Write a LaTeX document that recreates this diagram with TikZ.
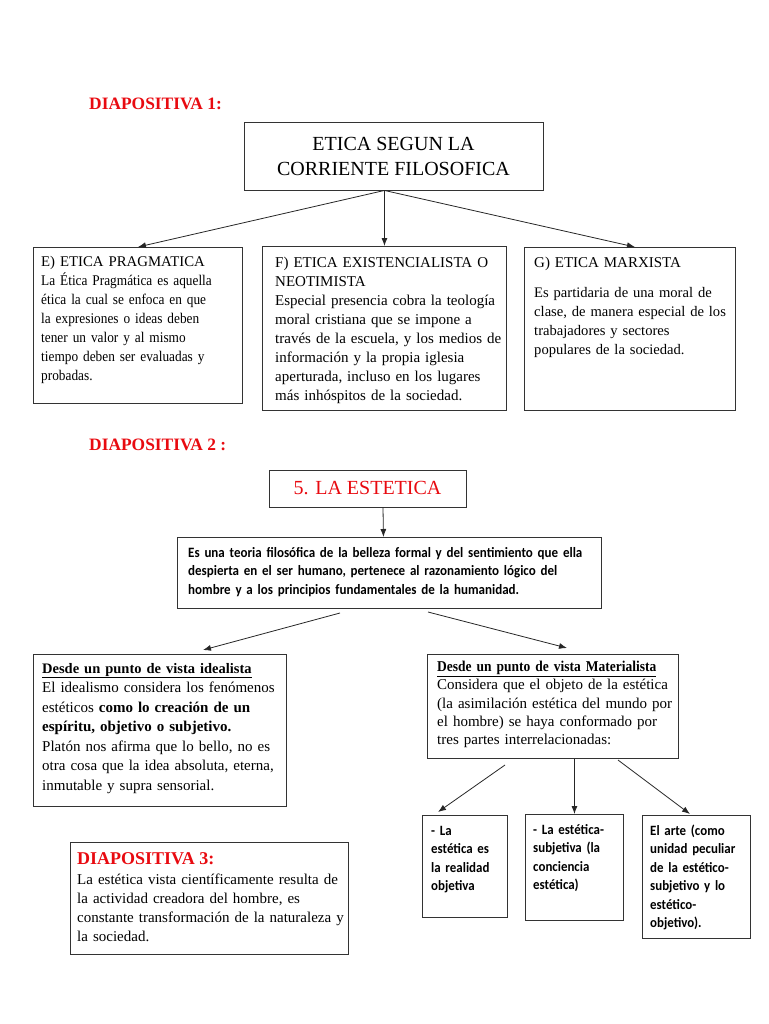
\documentclass[tikz,border=0pt]{standalone}
\usepackage{fontspec}
\setmainfont{Liberation Serif}
\newfontfamily\calibfont{Carlito}[FakeStretch=0.91]
\newfontfamily\condserif{Liberation Serif}[FakeStretch=0.9]
\usepackage{xcolor}
\usetikzlibrary{positioning,arrows.meta}
\definecolor{slidered}{RGB}{232,10,16}

\begin{document}
\begin{tikzpicture}
  [x=1pt,y=-1pt,
   box/.style={draw=black!80, line width=0.9pt, inner sep=0pt},
   frame/.style={box, anchor=north west},
   txt/.style={anchor=base west, inner sep=0pt, align=left, font=\fontsize{15}{19}\selectfont},
   stxt/.style={anchor=base west, inner sep=0pt, align=left, font=\calibfont\bfseries\fontsize{14.2}{18.5}\selectfont},
   slide/.style={anchor=base west, inner sep=0pt, text=slidered, font=\bfseries\fontsize{17.4}{20}\selectfont},
   arr/.style={-{Latex[length=8pt,width=6pt]}, line width=0.8pt, black!85}]
  \useasboundingbox (0,0) rectangle (768,1024);

  % diapositiva 1
  \node[slide] (slide1) at (89,110) {DIAPOSITIVA 1:};
  \node[box, minimum width=299, minimum height=68, align=center, font=\fontsize{20}{25}\selectfont] (title) at (393.5,156) {ETICA SEGUN LA\\CORRIENTE FILOSOFICA};

  \node[frame, minimum width=209, minimum height=156] (etE) at (33,247) {};
  \node[frame, minimum width=244, minimum height=164] (etF) at (262,246) {};
  \node[frame, minimum width=211, minimum height=163] (etG) at (524,247) {};

  \node[txt, text width=200, font=\condserif\fontsize{14.8}{19}\selectfont] (etEtxt) at (41,266) {{\rmfamily\fontsize{14.8}{19}\selectfont E) ETICA PRAGMATICA}\\La Ética Pragmática es aquella\\ética la cual se enfoca en que\\la expresiones o ideas deben\\tener un valor y al mismo\\tiempo deben ser evaluadas y\\probadas.};
  \node[txt, text width=228] (etFtxt) at (275,267) {F) ETICA EXISTENCIALISTA O\\NEOTIMISTA\\Especial presencia cobra la teología\\moral cristiana que se impone a\\través de la escuela, y los medios de\\información y la propia iglesia\\aperturada, incluso en los lugares\\más inhóspitos de la sociedad.};
  \node[txt, text width=198, font=\fontsize{14.6}{19}\selectfont] (etGtxt) at (534,267) {{\fontsize{15}{19}\selectfont G) ETICA MARXISTA}\\[11pt]Es partidaria de una moral de\\clase, de manera especial de los\\trabajadores y sectores\\populares de la sociedad.};

  \draw[arr] (title.south -| etF.north) -- (etE.north);
  \draw[arr] (title.south -| etF.north) -- (etF.north);
  \draw[arr] (title.south -| etF.north) -- ([xshift=5pt]etG.north);

  % diapositiva 2
  \node[slide] (slide2) at (89,450) {DIAPOSITIVA 2 :};
  \node[box, minimum width=197, minimum height=37, text=slidered, font=\fontsize{20}{24}\selectfont] (est) at (367.5,488.5) {5. LA ESTETICA};

  \node[frame, minimum width=424, minimum height=71] (desc) at (177,537) {};
  \node[stxt, text width=412, font=\calibfont\bfseries\fontsize{14.3}{18.5}\selectfont] (desctxt) at (188,557) {Es una teoria filosófica de la belleza formal y del sentimiento que ella\\despierta en el ser humano, pertenece al razonamiento lógico del\\hombre y a los principios fundamentales de la humanidad.};
  \draw[arr] ([xshift=15.5pt]est.south) -- ([xshift=-6pt]desc.north);

  \node[frame, minimum width=253, minimum height=152] (ideal) at (33,654) {};
  \node[txt, text width=240, font=\fontsize{15}{19.5}\selectfont] (idealtxt) at (42,673) {{\fontsize{14.5}{19.5}\selectfont\textbf{\underline{Desde un punto de vista idealista}}}\\El idealismo considera los fenómenos\\estéticos \textbf{como lo creación de un}\\\textbf{espíritu, objetivo o subjetivo.}\\Platón nos afirma que lo bello, no es\\otra cosa que la idea absoluta, eterna,\\inmutable y supra sensorial.};

  \node[frame, minimum width=251, minimum height=104] (mat) at (427,654) {};
  \node[txt, text width=240, font=\fontsize{15}{18.3}\selectfont] (mattxt) at (437,671.5) {{\condserif\bfseries\underline{Desde un punto de vista Materialista}}\\Considera que el objeto de la estética\\(la asimilación estética del mundo por\\el hombre) se haya conformado por\\tres partes interrelacionadas:};

  \coordinate (descL) at (340,613);
  \coordinate (idealin) at (203,650);
  \coordinate (descR) at (428,612);
  \coordinate (matin) at (567,648);
  \draw[arr] (descL) -- (idealin);
  \draw[arr] (descR) -- (matin);

  \node[frame, minimum width=85, minimum height=102] (part1) at (422,815) {};
  \node[frame, minimum width=98, minimum height=106] (part2) at (525,814) {};
  \node[frame, minimum width=108, minimum height=123] (part3) at (642,815) {};
  \node[stxt, text width=80] (part1txt) at (431,835) {- La\\estética es\\la realidad\\objetiva};
  \node[stxt, text width=90] (part2txt) at (533,834) {- La estética-\\subjetiva (la\\conciencia\\estética)};
  \node[stxt, text width=100] (part3txt) at (650,835) {El arte (como\\unidad peculiar\\de la estético-\\subjetivo y lo\\estético-\\objetivo).};

  \coordinate (matL) at (505,765);
  \coordinate (part1in) at (438,812);
  \coordinate (matR) at (618,760);
  \coordinate (part3in) at (690,814);
  \draw[arr] (matL) -- (part1in);
  \draw[arr] (mat.south -| part2.north) -- (part2.north);
  \draw[arr] (matR) -- (part3in);

  % diapositiva 3
  \node[frame, minimum width=278, minimum height=112] (slide3box) at (70,842) {};
  \node[slide, font=\bfseries\fontsize{18}{20}\selectfont] (slide3) at (77,864) {DIAPOSITIVA 3:};
  \node[txt, text width=268] (slide3txt) at (77,884.5) {La estética vista científicamente resulta de\\la actividad creadora del hombre, es\\constante transformación de la naturaleza y\\la sociedad.};
\end{tikzpicture}
\end{document}
